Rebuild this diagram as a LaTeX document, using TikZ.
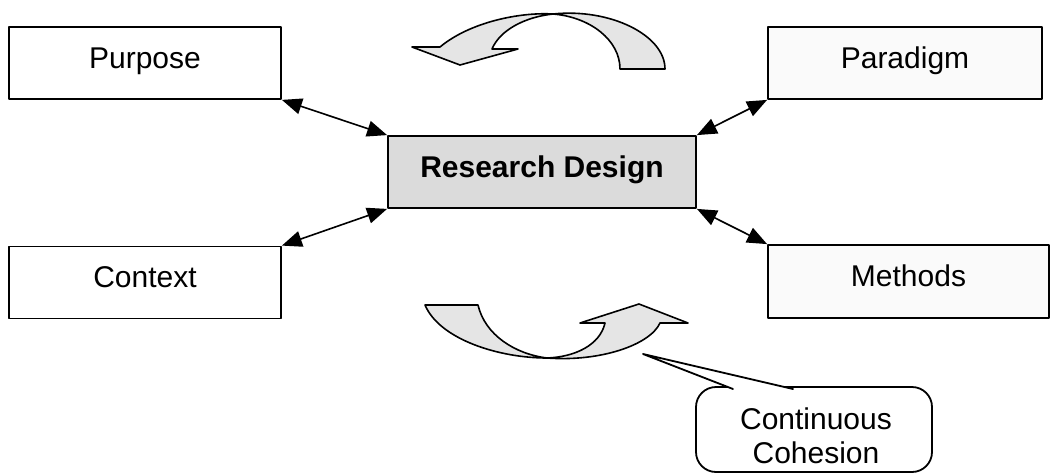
\documentclass[tikz,border=0pt]{standalone}
\usepackage{fontspec}
\setmainfont{Liberation Sans}
\usetikzlibrary{arrows.meta}

\begin{document}
\begin{tikzpicture}[
				x=1pt, y=-1pt,
				line cap=round,
				line join=round,
				line width=1.8pt,
				factor/.style={draw, minimum width=272pt, minimum height=72pt, inner sep=0pt,
					font=\fontsize{30}{34}\selectfont, text height=22pt, text depth=12pt},
				link/.style={{Triangle[length=20pt,width=16pt]}-{Triangle[length=20pt,width=16pt]}, line width=1.6pt},
				turn/.style={draw, fill=gray!20, line width=1.6pt}
				]
				\useasboundingbox (0,0) rectangle (1053,474);
				
				% Boxes
				\node[factor] (purpose) at (145,63) {Purpose};
				\node[factor, minimum width=274pt, fill=gray!4] (paradigm) at (905,63) {Paradigm};
				\node[factor] (context) at (145,282.5) {Context};
				\node[factor, minimum width=281pt, minimum height=73pt, fill=gray!4] (methods) at (908.5,281.5) {Methods};
				\node[factor, minimum width=308pt, fill=gray!28,
					font=\fontsize{30}{34}\selectfont\bfseries] (design) at (542,172) {Research Design};
				
				% Links
				\draw[link] (purpose.south east) -- (design.north west);
				\draw[link] (context.north east) -- (design.south west);
				\draw[link] (paradigm.south west) -- (design.north east);
				\draw[link] (methods.north west) -- (design.south east);
				
				% Upper turn arrow
				\draw[turn] (440,47) .. controls (470,22) and (520,12) .. (553,14)
					.. controls (590,17) and (620,40) .. (620,69) -- (665,69)
					.. controls (665,35) and (610,8) .. (553,14)
					.. controls (525,17) and (500,30) .. (492,49)
					-- (518,49) -- (460,65) -- (412,47) -- cycle;
				
				% Lower turn arrow
				\draw[turn] (425,305) .. controls (440,340) and (500,358) .. (547,358)
					.. controls (575,357) and (600,345) .. (605,323)
					-- (580,323) -- (639,304) -- (688,323) -- (660,323)
					.. controls (650,345) and (600,362) .. (547,358)
					.. controls (515,354) and (485,335) .. (478,305) -- cycle;
				
				% Callout
				\coordinate (tip) at (643,354);
				\draw[fill=white, rounded corners=20pt] (696,387) rectangle (932,472);
				\filldraw[fill=white] (733,389) -- (tip) -- (793,389);
				\node[align=center, inner sep=0pt, font=\fontsize{30}{34}\selectfont] (cohesion) at (816,435.5) {Continuous\\Cohesion};
			\end{tikzpicture}
\end{document}
